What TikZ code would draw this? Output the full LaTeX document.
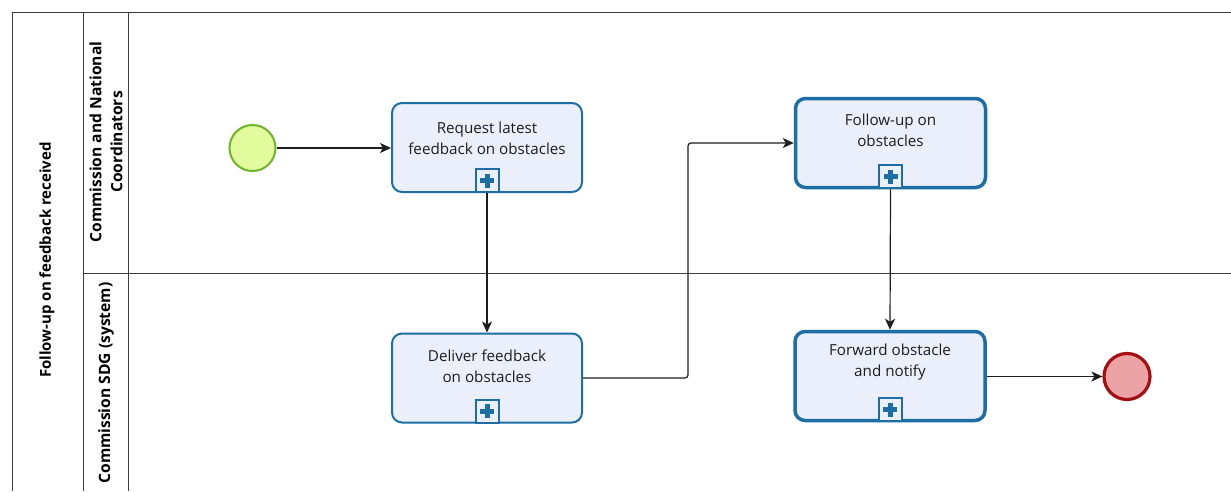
\documentclass[tikz,border=0pt]{standalone}
\usepackage{fontspec}
\setmainfont{Open Sans}
\usetikzlibrary{arrows.meta}
\definecolor{taskblue}{HTML}{1C6EA4}
\definecolor{taskfill}{HTML}{EBEFFC}
\definecolor{startline}{HTML}{6FB52C}
\definecolor{startfill}{HTML}{E2FB9C}
\definecolor{endline}{HTML}{A30F12}
\definecolor{endfill}{HTML}{EBA3A6}
\definecolor{poolgray}{HTML}{3C3C3C}
\definecolor{inkgray}{HTML}{1E1E1E}
\tikzset{
  poolline/.style={draw=poolgray, line width=1pt},
  lanelabel/.style={rotate=90, font=\fontsize{15.6}{21}\selectfont\bfseries, align=center, text=black},
  pooltitle/.style={lanelabel, font=\fontsize{15}{21}\selectfont\bfseries},
  task/.style={draw=taskblue, fill=taskfill, line width=2pt, rounded corners=10pt,
    minimum width=190pt, minimum height=89pt, inner sep=0pt},
  calltask/.style={task, line width=3.5pt},
  tasktext/.style={font=\fontsize{15.2}{21}\selectfont, align=center, text=inkgray, inner sep=0pt},
  marker/.style={draw=taskblue, fill=taskfill, line width=2pt, minimum size=23pt, inner sep=0pt, anchor=south},
  startev/.style={circle, draw=startline, fill=startfill, line width=2pt, minimum size=46pt, inner sep=0pt},
  endev/.style={circle, draw=endline, fill=endfill, line width=3.2pt, minimum size=46pt, inner sep=0pt},
  flow/.style={draw=inkgray, line width=1.2pt, -{Stealth[length=11pt,width=10pt,inset=3pt]}},
}
\newcommand\plusmark[1]{%
  \fill[taskblue] ([xshift=-7pt,yshift=-2.5pt]#1.center) rectangle ([xshift=7pt,yshift=2.5pt]#1.center);
  \fill[taskblue] ([xshift=-2.5pt,yshift=-7pt]#1.center) rectangle ([xshift=2.5pt,yshift=7pt]#1.center);}
\begin{document}
\begin{tikzpicture}[x=1pt,y=-1pt]
\useasboundingbox[fill=white] (0,0) rectangle (1231,491);

% pool and lane frame
\draw[poolline] (1231,12) -- (12,12) -- (12,491);
\draw[poolline] (83,12) -- (83,491);
\draw[poolline] (128,12) -- (128,491);
\draw[poolline] (83,273) -- (1231,273);

\node[pooltitle] (pool) at (47,260) {Follow-up on feedback received};
\node[lanelabel] (laneA) at (106,142) {Commission and National\\Coordinators};
\node[lanelabel] (laneB) at (106,383) {Commission SDG (system)};

% events
\node[startev] (start) at (252.5,148) {};
\node[endev] (finish) at (1127,376.5) {};

% sub-process tasks
\node[task] (t1) at (487,147.5) {};
\node[tasktext] (t1l) at (487,138.5) {Request latest\\feedback on obstacles};
\node[marker] (t1m) at (t1.south) {};
\plusmark{t1m}

\node[calltask] (t2) at (890.5,143) {};
\node[tasktext] (t2l) at (890.5,130) {Follow-up on\\obstacles};
\node[marker] (t2m) at (t2.south) {};
\plusmark{t2m}

\node[task] (t3) at (487,378) {};
\node[tasktext] (t3l) at (487,366) {Deliver feedback\\on obstacles};
\node[marker] (t3m) at (t3.south) {};
\plusmark{t3m}

\node[calltask] (t4) at (890,376) {};
\node[tasktext] (t4l) at (890,362.5) {Forward obstacle\\and notify};
\node[marker] (t4m) at (t4.south) {};
\plusmark{t4m}

% sequence flows
\draw[flow] (start.east) -- (start.east -| t1.west);
\draw[flow] (t1m.south) -- (t3.north);
\draw[flow, rounded corners=3pt] (t3.east) -- ++(105,0) |- (t2.west);
\draw[flow] (t2m.south) -- (t4.north);
\draw[flow] (t4.east |- finish.west) -- (finish.west);
\end{tikzpicture}
\end{document}
